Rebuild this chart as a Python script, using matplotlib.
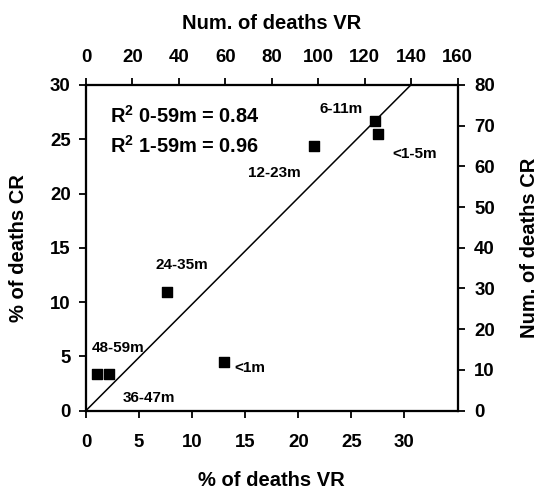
import numpy as np
import matplotlib
matplotlib.use('Agg')
import matplotlib.pyplot as plt

plt.rcParams['font.family'] = ['Liberation Sans', 'DejaVu Sans']
plt.rcParams['font.weight'] = 'bold'
plt.rcParams['mathtext.fontset'] = 'custom'
plt.rcParams['mathtext.rm'] = 'Liberation Sans:bold'
plt.rcParams['mathtext.bf'] = 'Liberation Sans:bold'

# Age groups, % of deaths by VR (x) and CR (y)
groups = ['6-11m', '<1-5m', '12-23m', '24-35m', '<1m', '48-59m', '36-47m']
pct_vr = [27.25, 27.5, 21.45, 7.6, 13.0, 1.05, 2.15]
pct_cr = [26.7, 25.5, 24.4, 10.95, 4.5, 3.4, 3.4]

# label anchor (left, middle) in data coords
label_x = [22.0, 28.9, 15.3, 6.5, 14.0, 0.58, 3.45]
label_y = [27.8, 23.6, 21.9, 13.4, 3.95, 5.8, 1.14]

# fitted line, in % units
fit_x = [0, 30.6]
fit_y = [0, 30.0]

r2_text = [r'R$^{2}$ 0-59m = 0.84', r'R$^{2}$ 1-59m = 0.96']

fig = plt.figure(figsize=(5.41, 4.93), dpi=100)
ax = fig.add_axes([0.159, 0.1673, 0.6867, 0.6603])

ax.plot(fit_x, fit_y, color='black', lw=1.1)
ax.scatter(pct_vr, pct_cr, marker='s', s=55, color='black', zorder=3)

for g, lx, ly in zip(groups, label_x, label_y):
    ax.text(lx, ly, g, fontsize=11, fontweight='bold', ha='left', va='center')

ax.text(2.23, 27.2, r2_text[0], fontsize=14.4, fontweight='bold', va='center')
ax.text(2.23, 24.4, r2_text[1], fontsize=14.4, fontweight='bold', va='center')

ax.set_xlim(0, 35)
ax.set_ylim(0, 30)
ax.set_xticks([0, 5, 10, 15, 20, 25, 30])
ax.set_yticks([0, 5, 10, 15, 20, 25, 30])
ax.set_xlabel('% of deaths VR', fontsize=14.5, fontweight='bold', labelpad=14)
ax.set_ylabel('% of deaths CR', fontsize=14.5, fontweight='bold', labelpad=16)

ax_top = ax.twiny()
ax_top.set_xlim(0, 160)
ax_top.set_xticks(np.arange(0, 161, 20))
ax_top.set_xlabel('Num. of deaths VR', fontsize=14.5, fontweight='bold', labelpad=14)

ax_right = ax.twinx()
ax_right.set_ylim(0, 80)
ax_right.set_yticks(np.arange(0, 81, 10))
ax_right.set_ylabel('Num. of deaths CR', fontsize=14.5, fontweight='bold', labelpad=18)

for a in (ax, ax_top, ax_right):
    a.tick_params(direction='out', length=5, width=1.3, labelsize=13.4)
    for lab in a.get_xticklabels() + a.get_yticklabels():
        lab.set_fontweight('bold')
    for s in a.spines.values():
        s.set_linewidth(1.5)

ax.tick_params(axis='x', pad=12)
ax.tick_params(axis='y', pad=6)
ax_top.tick_params(axis='x', pad=9)
ax_right.tick_params(axis='y', pad=7)

plt.savefig('out.png', dpi=100)
